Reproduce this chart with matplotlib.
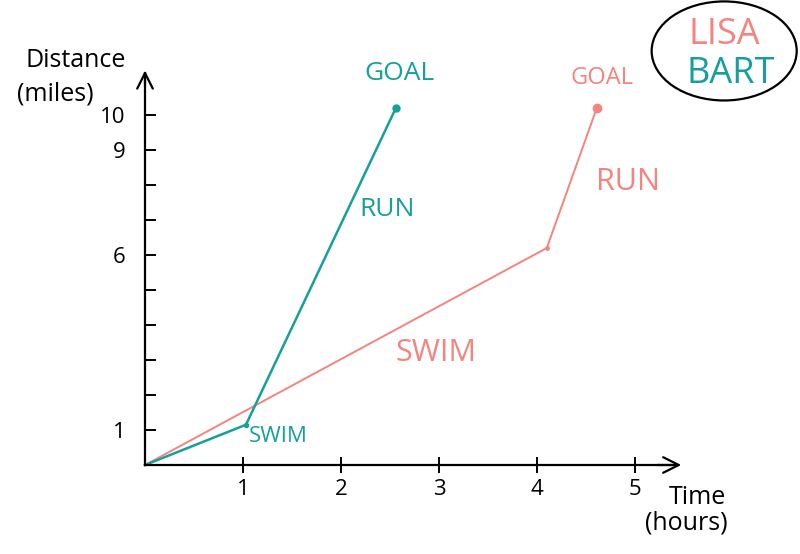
import matplotlib.pyplot as plt
from matplotlib.patches import Ellipse

# data: (hours, miles)
bart_time = [0, 1.03, 2.56]
bart_dist = [0, 1.15, 10.2]
lisa_time = [0, 4.1, 4.61]
lisa_dist = [0, 6.2, 10.2]

x_ticks = [1, 2, 3, 4, 5]
y_ticks = list(range(1, 11))
y_labels = ['1', '', '', '', '', '6', '', '', '9', '10']

teal = '#16a09c'
salmon = '#f4847f'

plt.rcParams['font.family'] = ['Open Sans', 'DejaVu Sans']

fig = plt.figure(figsize=(8, 5.54), dpi=100)
ax = fig.add_axes([0, 0, 1, 1])
# axes cover the whole figure: 98 px per hour, 35 px per mile, origin at (145, 465)
ax.set_xlim(-145 / 98, 655 / 98)
ax.set_ylim(-89 / 35, 465 / 35)

for s in ['top', 'right']:
    ax.spines[s].set_visible(False)
ax.spines['left'].set_position(('data', 0))
ax.spines['bottom'].set_position(('data', 0))
ax.spines['left'].set_bounds(0, 11.2)
ax.spines['bottom'].set_bounds(0, 5.4)
ax.spines['left'].set_linewidth(1.6)
ax.spines['bottom'].set_linewidth(1.6)

ax.set_xticks(x_ticks)
ax.set_xticklabels([str(t) for t in x_ticks])
ax.set_yticks(y_ticks)
ax.set_yticklabels(y_labels)
ax.tick_params(axis='x', direction='inout', length=12, width=1.4, labelsize=16, pad=4)
ax.tick_params(axis='y', direction='in', length=8, width=1.4, labelsize=16, pad=14)

# arrow heads
ax.annotate('', xy=(0, 11.35), xytext=(0, 10.8),
            arrowprops=dict(arrowstyle='->', lw=1.6, mutation_scale=28, color='black'))
ax.annotate('', xy=(5.5, 0), xytext=(5.2, 0),
            arrowprops=dict(arrowstyle='->', lw=1.6, mutation_scale=28, color='black'))

# the two routes
ax.plot(lisa_time, lisa_dist, color=salmon, lw=1.4)
ax.plot(bart_time, bart_dist, color=teal, lw=1.8)
ax.plot(bart_time[1], bart_dist[1], 'o', color=teal, ms=3)
ax.plot(lisa_time[1], lisa_dist[1], 'o', color=salmon, ms=2.5)
ax.plot(bart_time[-1], bart_dist[-1], 'o', color=teal, ms=5)
ax.plot(lisa_time[-1], lisa_dist[-1], 'o', color=salmon, ms=6)

# labels along the routes
ax.text(2.6, 11.2, 'GOAL', color=teal, fontsize=19, ha='center', va='center')
ax.text(2.47, 7.3, 'RUN', color=teal, fontsize=19, ha='center', va='center')
ax.text(1.36, 0.8, 'SWIM', color=teal, fontsize=16, ha='center', va='center')
ax.text(4.66, 11.05, 'GOAL', color=salmon, fontsize=17, ha='center', va='center')
ax.text(4.93, 8.08, 'RUN', color=salmon, fontsize=22, ha='center', va='center')
ax.text(2.97, 3.2, 'SWIM', color=salmon, fontsize=22, ha='center', va='center')

# axis titles
ax.text(-0.71, 11.55, 'Distance', fontsize=18, ha='center', va='center')
ax.text(-0.92, 10.6, '(miles)', fontsize=18, ha='center', va='center')
ax.text(5.64, -0.92, 'Time', fontsize=18, ha='center', va='center')
ax.text(5.52, -1.66, '(hours)', fontsize=18, ha='center', va='center')

# legend bubble
ax.add_patch(Ellipse((5.91, 11.83), 1.48, 2.83, fill=False, lw=1.6, color='black'))
ax.text(5.91, 12.3, 'LISA', color=salmon, fontsize=26, ha='center', va='center')
ax.text(5.98, 11.17, 'BART', color=teal, fontsize=26, ha='center', va='center')

fig.savefig('out.png', dpi=100)
